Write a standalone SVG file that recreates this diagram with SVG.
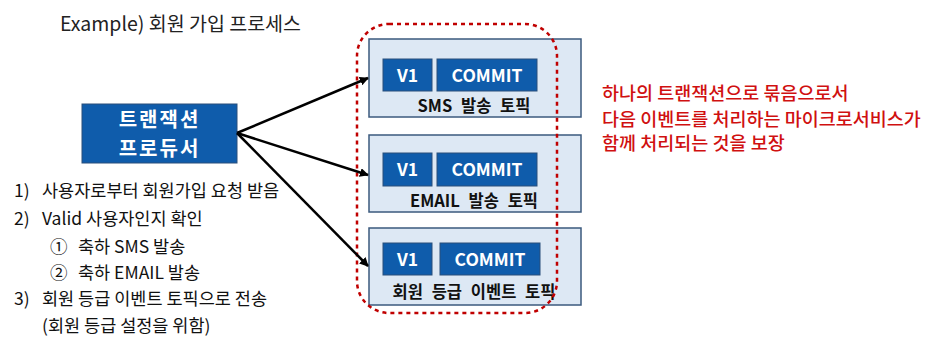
<svg xmlns="http://www.w3.org/2000/svg" width="930" height="347" viewBox="0 0 930 347">
<defs>
<style>
.t{font-family:"Noto Sans CJK KR","Noto Sans",sans-serif;}
.topic{fill:#dde8f4;stroke:#3b5a7e;stroke-width:1.5;}
.chip{fill:#0f5cab;stroke:#2a4f7a;stroke-width:1;}
.chiptxt{font-family:"Noto Sans CJK KR","Noto Sans",sans-serif;font-weight:700;font-size:17.5px;fill:#fff;text-anchor:middle;}
.lbl{font-family:"Noto Sans CJK KR","Noto Sans",sans-serif;font-weight:700;font-size:16.5px;fill:#111;text-anchor:middle;word-spacing:5px;}
.list{font-family:"Noto Sans CJK KR","Noto Sans",sans-serif;font-size:17.5px;fill:#111;}
.red{font-family:"Noto Sans CJK KR","Noto Sans",sans-serif;font-size:18.5px;font-weight:500;fill:#d01010;}
</style>
<marker id="ah" viewBox="0 0 10 10" refX="9" refY="5" markerWidth="9" markerHeight="9" markerUnits="userSpaceOnUse" orient="auto">
<path d="M0,0 L10,5 L0,10 z" fill="#000"/>
</marker>
</defs>
<rect width="930" height="347" fill="#fff"/>
<text class="t" x="60" y="31" font-size="19.5" fill="#222">Example) 회원 가입 프로세스</text>

<g id="producer">
<rect x="82" y="104" width="155" height="59" fill="#0f5cab" stroke="#2a4f7a" stroke-width="1"/>
<text class="t" x="159.5" y="127" font-size="20" font-weight="700" fill="#fff" text-anchor="middle" letter-spacing="2">트랜잭션</text>
<text class="t" x="159.5" y="156" font-size="20" font-weight="700" fill="#fff" text-anchor="middle" letter-spacing="2">프로듀서</text>
</g>

<g id="steps">
<text class="list" x="14" y="197">1)</text><text class="list" x="42" y="197">사용자로부터 회원가입 요청 받음</text>
<text class="list" x="14" y="225">2)</text><text class="list" x="42" y="225">Valid 사용자인지 확인</text>
<text class="list" x="50" y="253">①</text><text class="list" x="78" y="253">축하 SMS 발송</text>
<text class="list" x="50" y="279">②</text><text class="list" x="78" y="279">축하 EMAIL 발송</text>
<text class="list" x="14" y="305">3)</text><text class="list" x="42" y="305">회원 등급 이벤트 토픽으로 전송</text>
<text class="list" x="42" y="332">(회원 등급 설정을 위함)</text>
</g>

<g id="topic-sms">
<rect class="topic" x="369" y="39" width="212" height="78"/>
<rect class="chip" x="383" y="59" width="49" height="32"/>
<text class="chiptxt" x="407.5" y="81.5">V1</text>
<rect class="chip" x="437" y="59" width="100" height="32"/>
<text class="chiptxt" x="487" y="81.5">COMMIT</text>
<text class="lbl" x="474" y="112">SMS 발송 토픽</text>
</g>

<g id="topic-email">
<rect class="topic" x="369" y="135" width="212" height="77"/>
<rect class="chip" x="383" y="153" width="49" height="33"/>
<text class="chiptxt" x="407.5" y="176">V1</text>
<rect class="chip" x="437" y="153" width="100" height="33"/>
<text class="chiptxt" x="487" y="176">COMMIT</text>
<text class="lbl" x="474" y="207">EMAIL 발송 토픽</text>
</g>

<g id="topic-grade">
<rect class="topic" x="369" y="228" width="212" height="77"/>
<rect class="chip" x="383" y="243" width="49" height="32"/>
<text class="chiptxt" x="407.5" y="265.5">V1</text>
<rect class="chip" x="440" y="243" width="100" height="32"/>
<text class="chiptxt" x="490" y="265.5">COMMIT</text>
<text class="lbl" x="474" y="298">회원 등급 이벤트 토픽</text>
</g>

<g id="transaction-group">
<rect x="357" y="24" width="200" height="289" rx="32" ry="32" fill="none" stroke="#c00000" stroke-width="2.5" stroke-dasharray="4,4"/>
</g>

<g id="connectors" stroke="#000" stroke-width="2.5" fill="none">
<line x1="237" y1="133" x2="368" y2="78" marker-end="url(#ah)"/>
<line x1="237" y1="133" x2="368" y2="175" marker-end="url(#ah)"/>
<line x1="237" y1="133" x2="368" y2="266" marker-end="url(#ah)"/>
</g>

<g id="note">
<text class="red" x="602" y="100">하나의 트랜잭션으로 묶음으로서</text>
<text class="red" x="602" y="126">다음 이벤트를 처리하는 마이크로서비스가</text>
<text class="red" x="602" y="150">함께 처리되는 것을 보장</text>
</g>
</svg>
